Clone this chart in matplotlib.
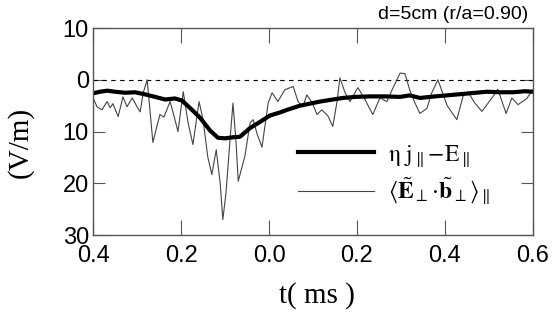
import numpy as np
import matplotlib
matplotlib.use('Agg')
import matplotlib.pyplot as plt
from matplotlib.ticker import FuncFormatter

plt.rcParams['font.family'] = ['Liberation Sans', 'DejaVu Sans']
plt.rcParams['mathtext.fontset'] = 'stix'

# thick line: eta j_par - E_par
t_thick = [-0.400, -0.384, -0.368, -0.350, -0.327, -0.305, -0.282, -0.259, -0.236,
           -0.214, -0.198, -0.180, -0.157, -0.134, -0.116, -0.100, -0.082, -0.066,
           -0.043, -0.020, 0.002, 0.025, 0.041, 0.070, 0.093, 0.116, 0.145, 0.168,
           0.195, 0.230, 0.264, 0.298, 0.320, 0.343, 0.377, 0.418, 0.457, 0.495,
           0.525, 0.555, 0.582, 0.600]
v_thick = [-2.6, -2.3, -2.1, -2.3, -2.5, -2.4, -2.8, -3.3, -3.8,
           -3.6, -4.0, -5.4, -7.3, -9.8, -11.2, -11.3, -11.1, -11.0,
           -9.3, -8.1, -6.9, -6.3, -5.8, -5.0, -4.6, -4.2, -3.8, -3.5,
           -3.3, -3.2, -3.2, -3.3, -3.0, -3.5, -3.2, -2.9, -2.6, -2.3,
           -2.4, -2.4, -2.2, -2.3]

# thin line: <E_perp . b_perp>_par
t_thin = [-0.400, -0.391, -0.380, -0.368, -0.361, -0.355, -0.343, -0.332, -0.323,
          -0.311, -0.300, -0.293, -0.286, -0.277, -0.270, -0.264, -0.255, -0.248,
          -0.239, -0.225, -0.216, -0.207, -0.195, -0.184, -0.173, -0.159, -0.150,
          -0.139, -0.130, -0.120, -0.111, -0.105, -0.098, -0.089, -0.082, -0.075,
          -0.070, -0.061, -0.055, -0.043, -0.036, -0.027, -0.016, -0.002, 0.007,
          0.020, 0.036, 0.055, 0.066, 0.077, 0.086, 0.098, 0.109, 0.120, 0.134,
          0.145, 0.155, 0.161, 0.173, 0.184, 0.202, 0.218, 0.236, 0.252, 0.268,
          0.280, 0.298, 0.309, 0.320, 0.332, 0.343, 0.359, 0.370, 0.384, 0.405,
          0.427, 0.441, 0.452, 0.468, 0.484, 0.498, 0.511, 0.520, 0.539, 0.552,
          0.566, 0.586, 0.600]
v_thin = [-3.5, -5.2, -5.8, -4.2, -5.4, -4.6, -7.1, -3.3, -5.2,
          -3.5, -5.2, -6.2, -2.5, 0.0, -6.5, -12.1, -9.0, -6.7,
          -7.2, -4.2, -7.0, -10.0, -2.3, -8.3, -12.5, -4.2, -7.7,
          -15.0, -18.3, -13.5, -20.0, -27.0, -22.0, -12.0, -4.5, -12.0,
          -19.6, -16.7, -14.8, -8.3, -7.7, -10.5, -13.0, -4.5, -2.5,
          -4.2, -1.9, -1.3, -4.2, -5.2, -2.9, -4.4, -6.7, -5.8, -7.0,
          -9.0, -4.0, 0.4, -2.5, -4.2, -1.5, -3.8, -6.7, -3.5, -4.2,
          -1.9, 1.3, 1.2, -2.0, -4.5, -6.5, -5.5, -2.5, 0.0, -5.0,
          -7.7, -3.2, -2.3, -4.5, -6.1, -4.5, -3.0, -1.8, -6.5, -3.5,
          -4.8, -3.6, -1.9]

xticks = [-0.4, -0.2, 0.0, 0.2, 0.4, 0.6]
yticks = [10, 0, -10, -20, -30]

fig = plt.figure(figsize=(5.54, 3.19), dpi=100)
ax = fig.add_axes([0.168, 0.263, 0.794, 0.649])

ax.axhline(0, color='black', lw=0.8, ls=(0, (4, 4)))
ax.plot(t_thin, v_thin, color='#444444', lw=0.8, solid_joinstyle='round',
        label=r'$\langle\tilde{\mathbf{E}}_{\perp}\!\cdot\!\tilde{\mathbf{b}}_{\perp}\rangle_{\parallel}$')
ax.plot(t_thick, v_thick, color='black', lw=3.0, solid_joinstyle='round',
        label=r'$\mathrm{\eta\ j_{\parallel}\!-\!E_{\parallel}}$')

ax.set_xlim(-0.4, 0.6)
ax.set_ylim(-30, 10)
ax.set_xticks(xticks)
ax.set_yticks(yticks)
ax.xaxis.set_major_formatter(FuncFormatter(lambda v, p: f'{abs(v):.1f}'))
ax.yaxis.set_major_formatter(FuncFormatter(lambda v, p: f'{abs(v):.0f}'))
ax.tick_params(axis='both', direction='in', top=True, right=True,
               labelsize=17, color='#555555')
ax.tick_params(axis='x', length=11, pad=7)
ax.tick_params(axis='y', length=8.5, pad=3)
for s in ax.spines.values():
    s.set_color('#555555')
    s.set_linewidth(1.0)

ax.set_xlabel('t( ms )', family='Liberation Serif', fontsize=21)
ax.xaxis.set_label_coords(0.509, -0.225)
ax.set_ylabel('(V/m)', family='Liberation Serif', fontsize=21)
ax.yaxis.set_label_coords(-0.135, 0.45)

h, l = ax.get_legend_handles_labels()
ax.legend(h[::-1], l[::-1], loc='center left', bbox_to_anchor=(0.466, 0.29),
          frameon=False, fontsize=17, handlelength=3.2, handletextpad=0.6,
          borderpad=0, borderaxespad=0, labelspacing=0.3)

fig.text(0.953, 0.955, 'd=5cm (r/a=0.90)', ha='right', va='center', fontsize=14)

fig.savefig('out.png', dpi=100)
plt.close(fig)
